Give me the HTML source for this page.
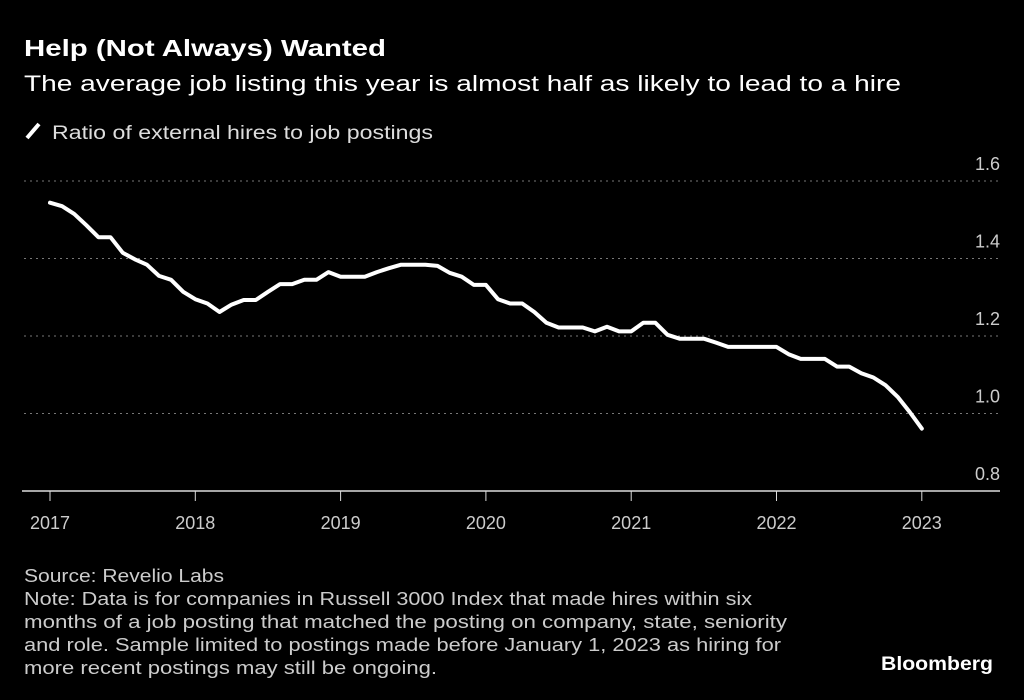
<!DOCTYPE html>
<html><head><meta charset="utf-8"><style>
html,body{margin:0;padding:0;background:#000;}
svg{display:block;font-family:"Liberation Sans",sans-serif;}
</style></head><body>
<svg id="chart" width="1024" height="700" viewBox="0 0 1024 700">
<rect width="1024" height="700" fill="#000"/>
<text x="24" y="56" fill="#fff" font-size="23" font-weight="bold" textLength="362" lengthAdjust="spacingAndGlyphs">Help (Not Always) Wanted</text>
<text x="24" y="91" fill="#fff" font-size="22" textLength="877" lengthAdjust="spacingAndGlyphs">The average job listing this year is almost half as likely to lead to a hire</text>
<line x1="27" y1="138" x2="39" y2="124" stroke="#fff" stroke-width="4"/>
<text x="52" y="139" fill="#ddd" font-size="19" textLength="381" lengthAdjust="spacingAndGlyphs">Ratio of external hires to job postings</text>
<g id="grid"></g>
<g id="xaxis"></g>
<path id="line" fill="none" stroke="#fff" stroke-width="4" stroke-linejoin="round" stroke-linecap="round"/>
<text x="24" y="582" fill="#ccc" font-size="18" textLength="200" lengthAdjust="spacingAndGlyphs">Source: Revelio Labs</text>
<text x="24" y="605" fill="#ccc" font-size="18" textLength="728" lengthAdjust="spacingAndGlyphs">Note: Data is for companies in Russell 3000 Index that made hires within six</text>
<text x="24" y="628" fill="#ccc" font-size="18" textLength="763" lengthAdjust="spacingAndGlyphs">months of a job posting that matched the posting on company, state, seniority</text>
<text x="24" y="651" fill="#ccc" font-size="18" textLength="757" lengthAdjust="spacingAndGlyphs">and role. Sample limited to postings made before January 1, 2023 as hiring for</text>
<text x="24" y="674" fill="#ccc" font-size="18" textLength="413" lengthAdjust="spacingAndGlyphs">more recent postings may still be ongoing.</text>
<text x="993" y="670" fill="#fff" font-size="19" font-weight="bold" text-anchor="end" textLength="112" lengthAdjust="spacingAndGlyphs">Bloomberg</text>
</svg>
<script>
const yTicks = [0.8, 1.0, 1.2, 1.4, 1.6];
const yTickLabels = ["0.8", "1.0", "1.2", "1.4", "1.6"];
const xYears = [2017, 2018, 2019, 2020, 2021, 2022, 2023];
const ratioValues = [1.544,1.535,1.515,1.486,1.455,1.455,1.415,1.398,1.384,1.355,1.345,1.314,
1.295,1.284,1.262,1.281,1.293,1.293,1.314,1.334,1.334,1.345,1.345,1.365,
1.353,1.353,1.353,1.365,1.375,1.384,1.384,1.384,1.381,1.363,1.353,1.332,
1.332,1.295,1.284,1.284,1.262,1.234,1.222,1.222,1.222,1.212,1.224,1.212,
1.212,1.234,1.234,1.203,1.193,1.193,1.193,1.183,1.172,1.172,1.172,1.172,
1.172,1.153,1.141,1.141,1.141,1.121,1.121,1.104,1.093,1.073,1.043,1.004,0.961];

const NS = "http://www.w3.org/2000/svg";
function yScale(v){ return 491 - (v - 0.8) / 0.8 * 310; }
function xScale(yr){ return 50 + (yr - 2017) * 145.3; }

const grid = document.getElementById("grid");
yTicks.forEach((t, i) => {
  const y = yScale(t);
  if (i > 0) {
    const l = document.createElementNS(NS, "line");
    l.setAttribute("x1", 24); l.setAttribute("x2", 1000);
    l.setAttribute("y1", y); l.setAttribute("y2", y);
    l.setAttribute("stroke", "#777"); l.setAttribute("stroke-width", "1");
    l.setAttribute("stroke-dasharray", "2 4");
    
    
    grid.appendChild(l);
  }
  const tx = document.createElementNS(NS, "text");
  tx.setAttribute("x", 1000); tx.setAttribute("y", y - 11);
  tx.setAttribute("fill", "#ccc"); tx.setAttribute("font-size", "18");
  tx.setAttribute("text-anchor", "end");
  tx.textContent = yTickLabels[i];
  
  
  grid.appendChild(tx);
});

const xa = document.getElementById("xaxis");
const axis = document.createElementNS(NS, "line");
axis.setAttribute("x1", 22); axis.setAttribute("x2", 1000);
axis.setAttribute("y1", 491); axis.setAttribute("y2", 491);
axis.setAttribute("stroke", "#ddd"); axis.setAttribute("stroke-width", "1.5");


xa.appendChild(axis);
xYears.forEach(yr => {
  const x = xScale(yr);
  const tk = document.createElementNS(NS, "line");
  tk.setAttribute("x1", x); tk.setAttribute("x2", x);
  tk.setAttribute("y1", 491); tk.setAttribute("y2", 501);
  tk.setAttribute("stroke", "#ddd"); tk.setAttribute("stroke-width", "1");
  
  
  xa.appendChild(tk);
  const tx = document.createElementNS(NS, "text");
  tx.setAttribute("x", x); tx.setAttribute("y", 529);
  tx.setAttribute("fill", "#ccc"); tx.setAttribute("font-size", "18");
  tx.setAttribute("text-anchor", "middle");
  tx.textContent = String(yr);
  
  
  xa.appendChild(tx);
});

let d = "";
ratioValues.forEach((v, i) => {
  const x = xScale(2017 + i / 12);
  d += (i ? "L" : "M") + x.toFixed(1) + " " + yScale(v).toFixed(1);
});
document.getElementById("line").setAttribute("d", d);
</script>
</body></html>
